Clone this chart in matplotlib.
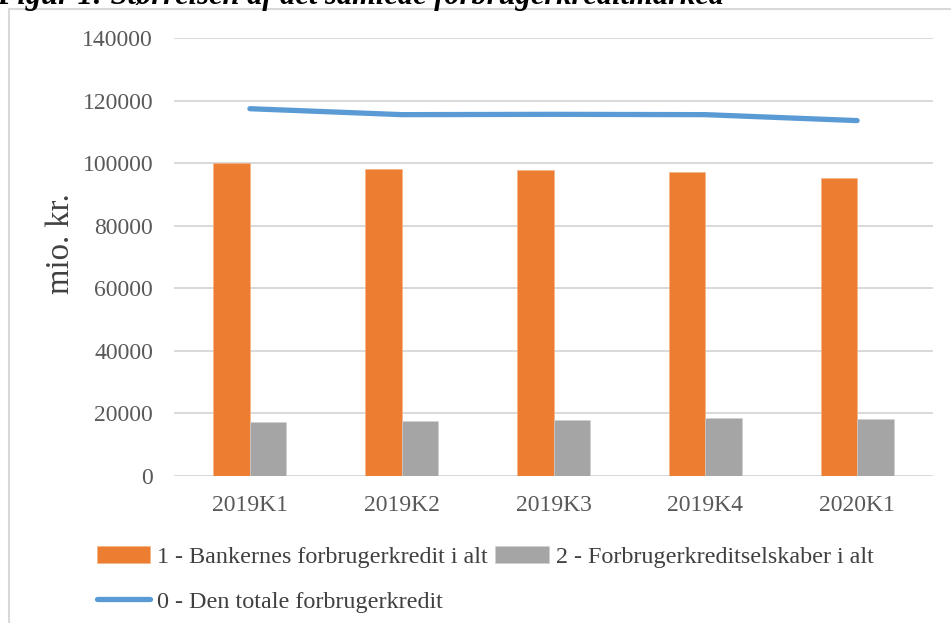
import matplotlib
matplotlib.use("Agg")
import matplotlib.pyplot as plt
import numpy as np

categories = ["2019K1", "2019K2", "2019K3", "2019K4", "2020K1"]
banks = [100000, 98000, 97800, 97200, 95300]
companies = [17300, 17500, 17850, 18400, 18300]
total = [117400, 115500, 115600, 115500, 113600]
yticks = [0, 20000, 40000, 60000, 80000, 100000, 120000, 140000]

plt.rcParams['font.family'] = ['Liberation Serif', 'DejaVu Serif']

W, H = 951, 623
fig = plt.figure(figsize=(W / 100, H / 100), dpi=100)
ax = fig.add_axes([174 / W, 147 / H, (933 - 174) / W, (476 - 38) / H])

x = np.arange(len(categories))
bw = 0.24
ax.bar(x - bw / 2, banks, bw, color='#ED7D31', edgecolor='#F4B183', linewidth=0.4,
       label='1 - Bankernes forbrugerkredit i alt', zorder=3)
ax.bar(x + bw / 2, companies, bw, color='#A5A5A5', edgecolor='#D0D0D0', linewidth=0.4,
       label='2 - Forbrugerkreditselskaber i alt', zorder=3)
ax.plot(x, total, color='#5B9BD5', linewidth=3.8, solid_capstyle='round',
        label='0 - Den totale forbrugerkredit', zorder=4)

ax.set_xlim(-0.5, len(categories) - 0.5)
ax.set_ylim(0, 140000)
ax.set_yticks(yticks)
ax.set_yticklabels([str(v) for v in yticks])
ax.set_xticks(x)
ax.set_xticklabels(categories)
ax.grid(axis='y', color='#D9D9D9', linewidth=1.4, zorder=0)
ax.set_axisbelow(True)
for s in ax.spines.values():
    s.set_visible(False)
ax.tick_params(axis='both', length=0, labelsize=17, labelcolor='#595959')
ax.tick_params(axis='y', pad=15)
ax.tick_params(axis='x', pad=14)

fig.text(61 / W, 1 - 244 / H, 'mio. kr.', rotation=90, ha='center', va='center',
         fontsize=23.5, color='#404040')

h, l = ax.get_legend_handles_labels()
# order: bank, total, companies -> column-wise fill gives row1: bank, companies; row2: total
order = [1, 0, 2]
leg = fig.legend([h[i] for i in order], [l[i] for i in order], ncol=2,
                 loc='upper left', bbox_to_anchor=(97 / W, 1 - 546 / H),
                 frameon=False, fontsize=17.4, handlelength=2.2, handleheight=0.7,
                 handletextpad=0.3, columnspacing=0.3, labelspacing=0.95,
                 borderpad=0, borderaxespad=0)
for t in leg.get_texts():
    t.set_color('#404040')

# chart border
fig.add_artist(plt.Rectangle((9 / W, -0.1), 1.2, 1 - 9 / H + 0.1, transform=fig.transFigure,
                             fill=False, edgecolor='#D9D9D9', linewidth=1.5))

# cut-off title (as in the reference, only its lower part is visible)
fig.text(-3 / W, 1 - 4 / H, 'Figur 1: Størrelsen af det samlede forbrugerkreditmarked',
         ha='left', va='baseline', fontsize=22, fontweight='bold', fontstyle='italic',
         color='#000000')

fig.savefig('out.png', dpi=100)
